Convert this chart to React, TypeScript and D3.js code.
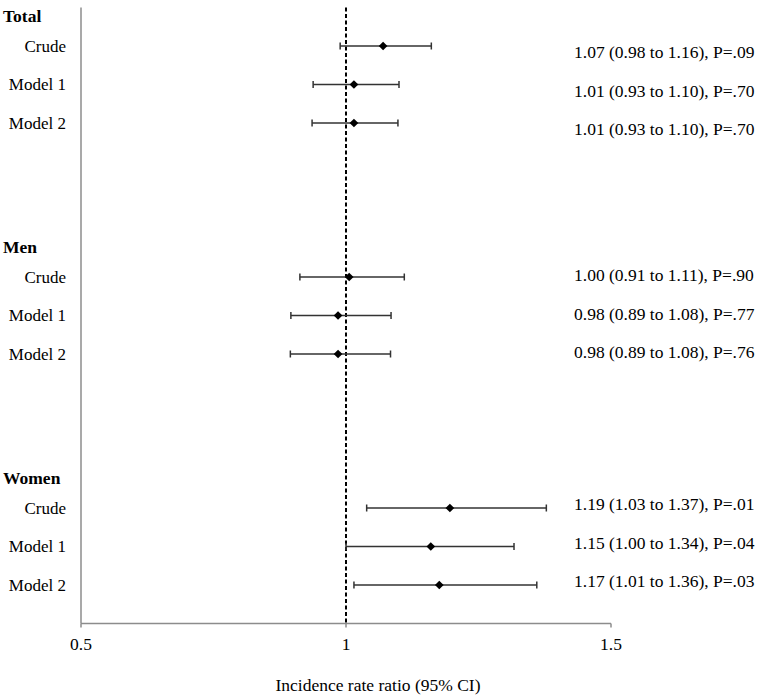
import React from "react";
import * as d3 from "d3";

const groups = ["Total", "Men", "Women"];
const models = ["Crude", "Model 1", "Model 2"];
const estimates = [1.07, 1.015, 1.015, 1.006, 0.985, 0.985, 1.196, 1.16, 1.176];
const lower = [0.989, 0.938, 0.936, 0.913, 0.896, 0.895, 1.039, 1.0, 1.015];
const upper = [1.161, 1.1, 1.098, 1.11, 1.085, 1.084, 1.378, 1.317, 1.36];
const annotations = [
  "1.07 (0.98 to 1.16), P=.09",
  "1.01 (0.93 to 1.10), P=.70",
  "1.01 (0.93 to 1.10), P=.70",
  "1.00 (0.91 to 1.11), P=.90",
  "0.98 (0.89 to 1.08), P=.77",
  "0.98 (0.89 to 1.08), P=.76",
  "1.19 (1.03 to 1.37), P=.01",
  "1.15 (1.00 to 1.34), P=.04",
  "1.17 (1.01 to 1.36), P=.03",
];
const xTicks = [0.5, 1, 1.5];
const xTitle = "Incidence rate ratio (95% CI)";

const W = 764;
const H = 696;
const FONT = "'Liberation Serif', 'Times New Roman', serif";

export default function App() {
  const x = d3.scaleLinear().domain([0.5, 1.5]).range([81, 611]);
  const y = d3.scaleLinear().domain([-1, 15]).range([7.5, 623.5]);
  const rowIndex = (g: number, m: number) => g * 6 + m;
  const axisY = y(15);
  const annOffset = [6, -2, -4];
  const diamond = d3.symbol().type(d3.symbolSquare).size(38)();

  return (
    <div style={{ position: "absolute", left: 0, top: 0 }}>
      <svg width={W} height={H} style={{ display: "block", fontFamily: FONT }}>
        <rect width={W} height={H} fill="#fff" />
        {/* axes */}
        <line x1={x(0.5)} x2={x(0.5)} y1={y(-1)} y2={axisY} stroke="#8c8c8c" strokeWidth={1.5} />
        <line x1={x(0.5)} x2={x(1.5)} y1={axisY} y2={axisY} stroke="#8c8c8c" strokeWidth={1.5} />
        {xTicks.map((t) => (
          <g key={t}>
            <line x1={x(t)} x2={x(t)} y1={axisY} y2={axisY + 4} stroke="#8c8c8c" strokeWidth={1.5} />
            <text x={x(t)} y={axisY + 26} textAnchor="middle" fontSize={17.5} fill="#000">
              {String(t)}
            </text>
          </g>
        ))}
        <text x={378} y={691} textAnchor="middle" fontSize={17.5} fill="#000">
          {xTitle}
        </text>
        {/* reference line */}
        <line
          x1={x(1)}
          x2={x(1)}
          y1={y(-1)}
          y2={axisY}
          stroke="#000"
          strokeWidth={2}
          strokeDasharray="4,2.5"
        />
        {groups.map((g, gi) => (
          <g key={g}>
            <text
              x={3}
              y={y(rowIndex(gi, 0) - 0.78)}
              dy="0.35em"
              fontSize={17.5}
              fontWeight="bold"
              fill="#000"
            >
              {g}
            </text>
            {models.map((m, mi) => {
              const i = gi * 3 + mi;
              const cy = y(rowIndex(gi, mi));
              return (
                <g key={m}>
                  <text x={66} y={cy} dy="0.35em" textAnchor="end" fontSize={17} fill="#000">
                    {m}
                  </text>
                  <line x1={x(lower[i])} x2={x(upper[i])} y1={cy} y2={cy} stroke="#333" strokeWidth={1.5} />
                  <line x1={x(lower[i])} x2={x(lower[i])} y1={cy - 3.5} y2={cy + 3.5} stroke="#333" strokeWidth={1.5} />
                  <line x1={x(upper[i])} x2={x(upper[i])} y1={cy - 3.5} y2={cy + 3.5} stroke="#333" strokeWidth={1.5} />
                  <path
                    d={diamond as string}
                    transform={`translate(${x(estimates[i])},${cy}) rotate(45)`}
                    fill="#000"
                  />
                  <text x={574} y={cy + annOffset[gi]} dy="0.35em" fontSize={17.5} fill="#000">
                    {annotations[i]}
                  </text>
                </g>
              );
            })}
          </g>
        ))}
      </svg>
    </div>
  );
}
